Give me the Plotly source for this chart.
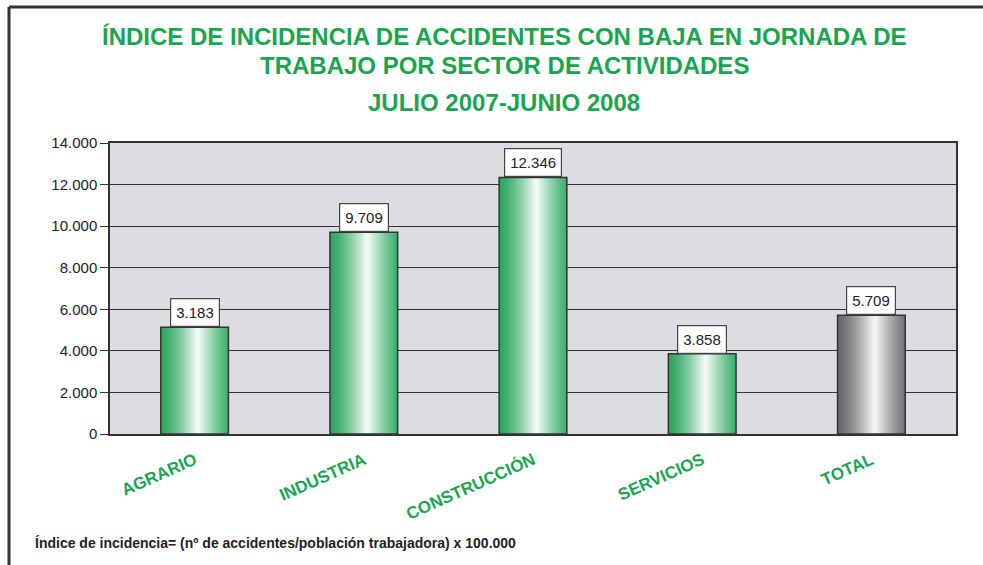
import plotly.graph_objects as go

# ---- data ----
categories = ["AGRARIO", "INDUSTRIA", "CONSTRUCCIÓN", "SERVICIOS", "TOTAL"]
bar_values = [5130, 9709, 12346, 3858, 5709]
bar_labels = ["3.183", "9.709", "12.346", "3.858", "5.709"]
is_total = [False, False, False, False, True]

title_lines = ["ÍNDICE DE INCIDENCIA DE ACCIDENTES CON BAJA EN JORNADA DE",
               "TRABAJO POR SECTOR DE ACTIVIDADES"]
subtitle = "JULIO 2007-JUNIO 2008"
footnote = "Índice de incidencia= (nº de accidentes/población trabajadora) x 100.000"

# ---- layout geometry ----
W, H = 983, 565
ML, MR, MT, MB = 110, 27, 143, 131
PW, PH = W - ML - MR, H - MT - MB

def px(x):
    return (x - ML) / PW

def py(y):
    return (H - MB - y) / PH

GREEN = "#17a64e"
FONT = "Liberation Sans, Arial, Helvetica, sans-serif"

# ---- gradient helpers ----
def lerp(a, b, t):
    return tuple(a[i] + (b[i] - a[i]) * t for i in range(3))

def grad_color(t, left, right, peak, pk=0.55):
    if t <= pk:
        d = (pk - t) / pk
        base = left
        f = (1 - d) ** 1.4
    else:
        d = (t - pk) / (1 - pk)
        base = right
        f = (1 - d) ** 1.2
    c = lerp(base, peak, f)
    return "rgb(%d,%d,%d)" % tuple(int(round(v)) for v in c)

G_LEFT, G_RIGHT, G_PEAK = (46, 166, 96), (62, 176, 110), (248, 252, 249)
K_LEFT, K_RIGHT, K_PEAK = (104, 104, 108), (116, 116, 120), (248, 248, 248)

BAR_W = 0.40
N = 40
sw = BAR_W / N

fig = go.Figure()
for i in range(N):
    t = (i + 0.5) / N
    cols = [grad_color(t, K_LEFT, K_RIGHT, K_PEAK) if tot else grad_color(t, G_LEFT, G_RIGHT, G_PEAK)
            for tot in is_total]
    off = -BAR_W / 2 + i * sw
    wid = min(3 * sw, BAR_W / 2 - off)
    fig.add_trace(go.Bar(
        x=categories, y=bar_values,
        width=[wid] * len(categories),
        offset=[off] * len(categories),
        marker=dict(color=cols, line=dict(width=0)),
        hoverinfo="skip", showlegend=False,
    ))

# outline
fig.add_trace(go.Bar(
    x=categories, y=bar_values,
    width=[BAR_W] * len(categories),
    marker=dict(color="rgba(0,0,0,0)", line=dict(color="#333333", width=1.5)),
    showlegend=False, hoverinfo="x+y",
))

annotations = []
for c, v, lab in zip(categories, bar_values, bar_labels):
    annotations.append(dict(
        x=c, y=v, xref="x", yref="y", text=lab, showarrow=False,
        yanchor="bottom", yshift=0,
        font=dict(family=FONT, size=15, color="#222222"),
        bgcolor="white", bordercolor="#444444", borderwidth=1.2, borderpad=5,
    ))

for txt, yy in [(title_lines[0], 37), (title_lines[1], 65), (subtitle, 102)]:
    annotations.append(dict(
        x=px(504), y=py(yy), xref="paper", yref="paper",
        text=txt, showarrow=False, xanchor="center", yanchor="middle",
        font=dict(family=FONT, size=24, color=GREEN, weight="bold"),
    ))

annotations.append(dict(
    x=px(33), y=py(543), xref="paper", yref="paper",
    text=footnote, showarrow=False, xanchor="left", yanchor="middle",
    font=dict(family=FONT, size=14, color="#222222", weight="bold"),
))

shapes = [
    # page frame (left and top edges)
    dict(type="line", xref="paper", yref="paper",
         x0=px(9), x1=px(9), y0=py(7), y1=py(575),
         line=dict(color="#333333", width=3)),
    dict(type="line", xref="paper", yref="paper",
         x0=px(9), x1=px(995), y0=py(7), y1=py(7),
         line=dict(color="#333333", width=3)),
]

fig.update_layout(
    width=W, height=H,
    margin=dict(l=ML, r=MR, t=MT, b=MB, autoexpand=False),
    barmode="overlay",
    paper_bgcolor="white",
    plot_bgcolor="#dcdde0",
    separators=",.",
    annotations=annotations,
    shapes=shapes,
    font=dict(family=FONT),
    xaxis=dict(
        type="category",
        tickangle=-24,
        tickfont=dict(family=FONT, size=17, color=GREEN, weight="bold"),
        showline=True, linecolor="#333333", linewidth=1.5, mirror=True,
        ticks="outside", ticklen=8, tickcolor="rgba(0,0,0,0)", showgrid=False,
    ),
    yaxis=dict(
        range=[0, 14000], dtick=2000, tickformat=",d",
        showgrid=True, gridcolor="#333333", gridwidth=1.3,
        showline=True, linecolor="#333333", linewidth=1.5, mirror=True,
        ticks="outside", ticklen=8, tickcolor="#333333", tickwidth=1.3,
        tickfont=dict(family=FONT, size=15, color="#222222"),
        zeroline=False,
    ),
)

fig.write_html("out.html")
